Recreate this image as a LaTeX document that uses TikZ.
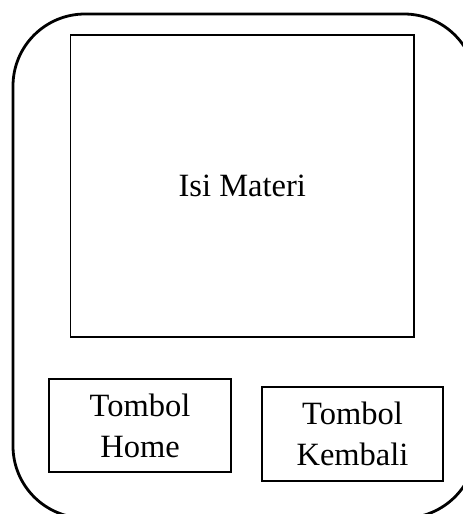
\documentclass[tikz,border=0pt]{standalone}
\usepackage{fontspec}
\setmainfont{Liberation Serif}
\begin{document}
\begin{tikzpicture}[x=1pt,y=-1pt,
  frame/.style={draw=black,line width=2.8pt,rounded corners=72pt},
  panel/.style={draw=black,line width=1.8pt,rectangle,inner sep=0pt,
    outer sep=0pt,align=center,font=\fontsize{32.5}{41}\selectfont}]
  \useasboundingbox (0,0) rectangle (463,514);
  \clip (0,0) rectangle (463,514);
  % device outline, running past the right and bottom edges
  \draw[frame] (13,14) rectangle (476,518);
  % content area
  \node[panel,minimum width=343.5pt,minimum height=302pt] (isi) at (242.25,186) {Isi Materi};
  % buttons
  \node[panel,minimum width=182pt,minimum height=93pt] (home) at (140,425.5) {Tombol\\Home};
  \node[panel,minimum width=181pt,minimum height=94pt] (kembali) at (352.5,434) {Tombol\\Kembali};
\end{tikzpicture}
\end{document}
